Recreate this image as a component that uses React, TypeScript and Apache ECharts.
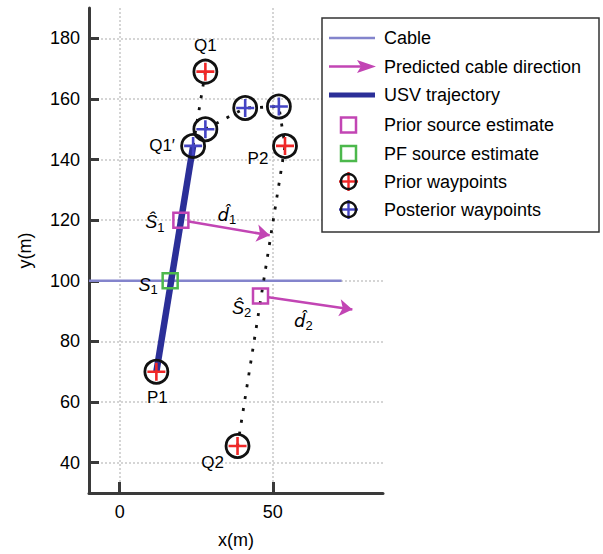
import React, { useEffect, useRef } from "react";
import * as echarts from "echarts";

// ---- data ----
const xTicks = [0, 50];
const yTicks = [40, 60, 80, 100, 120, 140, 160, 180];
const cableLine = [[-10, 100], [72.5, 100]];
const usvTrajectory = [[12, 70], [24, 144.5]];
const priorWaypoints = [
  { name: "P1", pos: [12, 70] },
  { name: "Q1", pos: [28, 169] },
  { name: "P2", pos: [54, 144.5] },
  { name: "Q2", pos: [38.5, 45.5] },
];
const posteriorWaypoints = [
  { name: "Q1′", pos: [24, 144.5] },
  { name: "", pos: [28, 150] },
  { name: "", pos: [41, 157] },
  { name: "", pos: [52, 157.5] },
];
const dottedPathA = [[28, 169], [24, 144.5]];
const dottedPathB = [[28, 150], [41, 157], [52, 157.5], [54, 144.5], [38.5, 45.5]];
const priorSources = [
  { name: "S1hat", pos: [20, 120] },
  { name: "S2hat", pos: [46, 95] },
];
const pfSources = [{ name: "S1", pos: [16.5, 100] }];
const arrows = [
  [[22.6, 119.6], [49, 115]],
  [[48.6, 94.6], [76, 90.5]],
];
const arrowLabels = [
  { name: "d1", pos: [35, 122] },
  { name: "d2", pos: [60, 87] },
];
const legendItems = [
  "Cable",
  "Predicted cable direction",
  "USV trajectory",
  "Prior source estimate",
  "PF source estimate",
  "Prior waypoints",
  "Posterior waypoints",
];

const FONT = "'Liberation Sans', Arial, Helvetica, sans-serif";
const CABLE = "#8384cc";
const NAVY = "#2b2f98";
const MAGENTA = "#c245b4";
const GREEN = "#4cb84c";
const RED = "#f02828";
const BLUE = "#4444c4";
const PLUS = "path://M-1.3,-9h2.6v18h-2.6z M-9,-1.3h18v2.6h-18z";

const pointLabelOffsets: Record<string, number[]> = {
  P1: [1, 26],
  Q1: [0, -26],
  P2: [-27, 13],
  Q2: [-25, 16],
  "Q1′": [-31, 0],
};

const rich = {
  i: { fontStyle: "italic", fontSize: 18, fontFamily: FONT, color: "#000" },
  d: { fontStyle: "italic", fontSize: 18, fontFamily: "'DejaVu Sans', sans-serif", color: "#000" },
  sub: { fontSize: 13, fontFamily: FONT, color: "#000", padding: [10, 0, 0, 0] },
};

const labelBase = { textBorderWidth: 0, textShadowBlur: 0, color: "#000" };

function buildLegend() {
  const rowY = [38, 66.5, 95, 125, 153.5, 181.5, 209.5];
  const children: any[] = [
    {
      type: "rect",
      shape: { x: 322, y: 18, width: 277, height: 214 },
      style: { fill: "#fff", stroke: "#333", lineWidth: 1.5 },
    },
  ];
  const cx = 348.5;
  children.push({ type: "line", shape: { x1: 329, y1: rowY[0], x2: 375, y2: rowY[0] }, style: { stroke: CABLE, lineWidth: 2.5 } });
  children.push({ type: "line", shape: { x1: 329, y1: rowY[1], x2: 366, y2: rowY[1] }, style: { stroke: MAGENTA, lineWidth: 2.5 } });
  children.push({
    type: "polygon",
    shape: { points: [[376, rowY[1]], [357, rowY[1] - 6.5], [361, rowY[1]], [357, rowY[1] + 6.5]] },
    style: { fill: MAGENTA },
  });
  children.push({ type: "line", shape: { x1: 329, y1: rowY[2], x2: 375, y2: rowY[2] }, style: { stroke: NAVY, lineWidth: 5 } });
  children.push({ type: "rect", shape: { x: cx - 7.5, y: rowY[3] - 7.5, width: 15, height: 15 }, style: { fill: "none", stroke: MAGENTA, lineWidth: 2.5 } });
  children.push({ type: "rect", shape: { x: cx - 7.5, y: rowY[4] - 7.5, width: 15, height: 15 }, style: { fill: "none", stroke: GREEN, lineWidth: 2.5 } });
  [[rowY[5], RED], [rowY[6], BLUE]].forEach(([y, c]: any) => {
    children.push({ type: "line", shape: { x1: cx - 9.5, y1: y, x2: cx + 9.5, y2: y }, style: { stroke: c, lineWidth: 2.4 } });
    children.push({ type: "line", shape: { x1: cx, y1: y - 9.5, x2: cx, y2: y + 9.5 }, style: { stroke: c, lineWidth: 2.4 } });
    children.push({ type: "circle", shape: { cx, cy: y, r: 7.5 }, style: { fill: "none", stroke: "#111", lineWidth: 2.5 } });
  });
  legendItems.forEach((t, i) => {
    children.push({
      type: "text",
      x: 384,
      y: rowY[i],
      style: { text: t, fontSize: 18, fontFamily: FONT, fill: "#000", verticalAlign: "middle", align: "left" },
    });
  });
  return children.map((c) => ({ ...c, z: 100 }));
}

export default function App() {
  const ref = useRef<HTMLDivElement>(null);
  useEffect(() => {
    document.body.style.margin = "0";
    const chart = echarts.init(ref.current!, undefined, { renderer: "svg" });
    const dotted = { color: "#111", width: 2.8, type: [3, 9] as any, cap: "butt" };
    const option: any = {
      animation: false,
      backgroundColor: "#fff",
      grid: { left: 89, top: 8, right: 220, bottom: 59 },
      xAxis: {
        type: "value",
        min: -10,
        max: 86,
        name: "x(m)",
        nameLocation: "middle",
        nameGap: 38,
        nameTextStyle: { fontSize: 18, fontFamily: FONT, color: "#000" },
        axisLine: { onZero: false, lineStyle: { color: "#3a3a3a", width: 3 } },
        axisTick: { inside: true, length: 11, customValues: xTicks, lineStyle: { color: "#3a3a3a", width: 3 } },
        axisLabel: { customValues: xTicks, fontSize: 18, fontFamily: FONT, color: "#000", margin: 10 },
        splitLine: { show: true, lineStyle: { color: "#c8c8c8", width: 1.5, type: [2, 2] } },
      },
      yAxis: {
        type: "value",
        min: 30,
        max: 190,
        name: "y(m)",
        nameLocation: "middle",
        nameGap: 55,
        nameTextStyle: { fontSize: 18, fontFamily: FONT, color: "#000" },
        axisLine: { onZero: false, lineStyle: { color: "#3a3a3a", width: 3 } },
        axisTick: { inside: true, length: 10, customValues: yTicks, lineStyle: { color: "#3a3a3a", width: 3 } },
        axisLabel: { customValues: yTicks, fontSize: 18, fontFamily: FONT, color: "#000", margin: 9 },
        splitLine: { show: true, lineStyle: { color: "#c8c8c8", width: 1.5, type: [2, 2] } },
      },
      series: [
        { type: "line", data: cableLine, symbol: "none", lineStyle: { color: CABLE, width: 2.5 }, z: 2 },
        { type: "line", data: dottedPathA, symbol: "none", lineStyle: dotted, z: 3 },
        { type: "line", data: dottedPathB, symbol: "none", lineStyle: dotted, z: 3 },
        { type: "line", data: usvTrajectory, symbol: "none", lineStyle: { color: NAVY, width: 6.5 }, z: 4 },
        {
          type: "lines",
          coordinateSystem: "cartesian2d",
          symbol: ["none", "arrow"],
          symbolSize: 13,
          lineStyle: { color: MAGENTA, width: 2.5, opacity: 1, curveness: 0 },
          data: arrows.map((c) => ({ coords: c })),
          z: 5,
        },
        {
          type: "scatter",
          symbol: "rect",
          symbolSize: 15,
          itemStyle: { color: "none", borderColor: MAGENTA, borderWidth: 2.5, opacity: 1 },
          data: priorSources.map((s, i) => ({
            value: s.pos,
            label: {
              ...labelBase,
              show: true,
              position: "inside",
              offset: i === 0 ? [-26, 2] : [-19, 12],
              formatter: `{i|Ŝ}{sub|${i + 1}}`,
              rich,
            },
          })),
          z: 6,
        },
        {
          type: "scatter",
          symbol: "rect",
          symbolSize: 15,
          itemStyle: { color: "none", borderColor: GREEN, borderWidth: 2.5, opacity: 1 },
          data: pfSources.map((s) => ({
            value: s.pos,
            label: {
              ...labelBase,
              show: true,
              position: "inside",
              offset: [-22, 4],
              formatter: "{i|S}{sub|1}",
              rich,
            },
          })),
          z: 6,
        },
        {
          type: "scatter",
          symbolSize: 0,
          itemStyle: { opacity: 1 },
          data: arrowLabels.map((s, i) => ({
            value: s.pos,
            label: {
              ...labelBase,
              show: true,
              position: "inside",
              formatter: `{d|d\u0302}{sub|${i + 1}}`,
              rich,
            },
          })),
          z: 6,
        },
        { type: "scatter", symbol: PLUS, symbolSize: 18, itemStyle: { color: RED, opacity: 1 }, data: priorWaypoints.map((p) => p.pos), z: 7 },
        { type: "scatter", symbol: PLUS, symbolSize: 18, itemStyle: { color: BLUE, opacity: 1 }, data: posteriorWaypoints.map((p) => p.pos), z: 7 },
        {
          type: "scatter",
          symbol: "circle",
          symbolSize: 23,
          itemStyle: { color: "none", borderColor: "#111", borderWidth: 2.8, opacity: 1 },
          data: [...priorWaypoints, ...posteriorWaypoints].map((p) => ({
            value: p.pos,
            label: p.name
              ? {
                  ...labelBase,
                  show: true,
                  position: "inside",
                  offset: pointLabelOffsets[p.name],
                  formatter: p.name,
                  fontSize: 17,
                  fontFamily: FONT,
                }
              : { show: false },
          })),
          z: 8,
        },
      ],
      graphic: buildLegend(),
    };
    chart.setOption(option);
    return () => chart.dispose();
  }, []);
  return <div ref={ref} style={{ width: 603, height: 554 }} />;
}
